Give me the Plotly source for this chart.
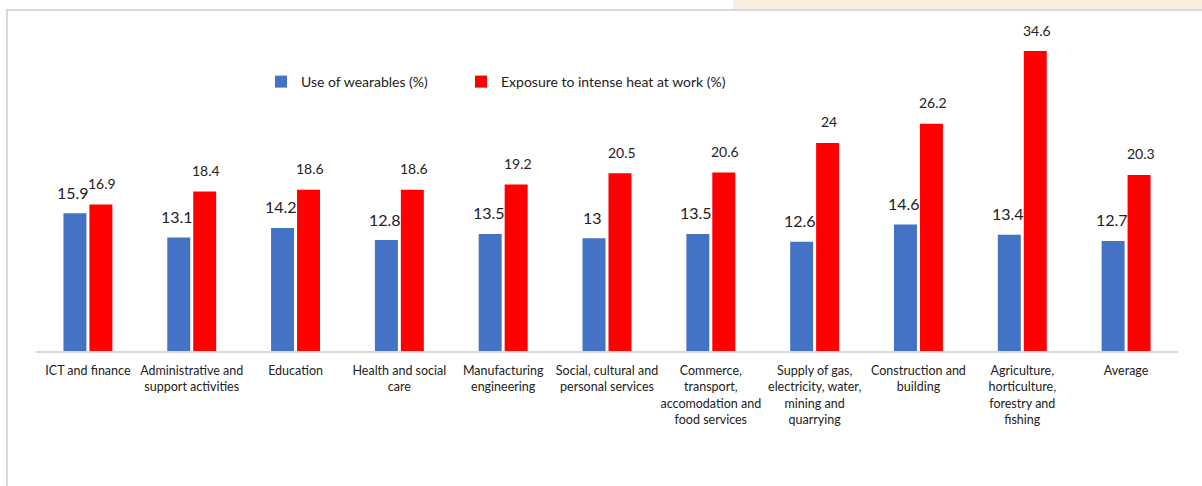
import plotly.graph_objects as go

categories = [
    "ICT and finance",
    "Administrative and<br>support activities",
    "Education",
    "Health and social<br>care",
    "Manufacturing<br>engineering",
    "Social, cultural and<br>personal services",
    "Commerce,<br>transport,<br>accomodation and<br>food services",
    "Supply of gas,<br>electricity, water,<br>mining and<br>quarrying",
    "Construction and<br>building",
    "Agriculture,<br>horticulture,<br>forestry and<br>fishing",
    "Average",
]
wearables = [15.9, 13.1, 14.2, 12.8, 13.5, 13, 13.5, 12.6, 14.6, 13.4, 12.7]
heat = [16.9, 18.4, 18.6, 18.6, 19.2, 20.5, 20.6, 24, 26.2, 34.6, 20.3]
series_names = ["Use of wearables (%)", "Exposure to intense heat at work (%)"]

BLUE = "#4472C4"
RED = "#FF0000"
FONT = "Lato"

W, H = 1202, 486
ml, mr, mt, mb = 36, 24, 20, 135
pw = W - ml - mr
ph = H - mt - mb
ymax = ph / (300 / 34.6)


def px_x(p):
    return (p - ml) / pw


def px_y(p):
    return (H - mb - p) / ph


fig = go.Figure()
fig.add_trace(go.Bar(x=categories, y=wearables, name=series_names[0], legend="legend",
                     marker=dict(color=BLUE, line=dict(width=0))))
fig.add_trace(go.Bar(x=categories, y=heat, name=series_names[1], legend="legend2",
                     marker=dict(color=RED, line=dict(width=0))))

annotations = []
for c, v in zip(categories, wearables):
    annotations.append(dict(x=c, y=v, text=f"{v:g}", showarrow=False, xshift=-14.5,
                            yshift=21, font=dict(family=FONT, size=16, color="#222")))
for c, v in zip(categories, heat):
    annotations.append(dict(x=c, y=v, text=f"{v:g}", showarrow=False, xshift=14.5,
                            yshift=21, font=dict(family=FONT, size=14, color="#222")))

shapes = [
    dict(type="rect", xref="paper", yref="paper", x0=px_x(733), x1=px_x(1210),
         y0=px_y(9), y1=px_y(-5), fillcolor="#FBEEE0", line=dict(width=0), layer="below"),
    dict(type="rect", xref="paper", yref="paper", x0=px_x(7), x1=px_x(1215),
         y0=px_y(500), y1=px_y(10), line=dict(color="#D9D9D9", width=2),
         fillcolor="rgba(0,0,0,0)", layer="below"),
]

legend_common = dict(orientation="h", xanchor="left", yanchor="middle",
                     font=dict(family=FONT, size=14, color="#222"),
                     bgcolor="rgba(0,0,0,0)")

fig.update_layout(
    width=W, height=H,
    margin=dict(l=ml, r=mr, t=mt, b=mb),
    paper_bgcolor="white", plot_bgcolor="white",
    barmode="group", bargap=0.5, bargroupgap=0.115,
    font=dict(family=FONT, color="#222"),
    showlegend=True,
    legend=dict(x=px_x(261), y=px_y(82), **legend_common),
    legend2=dict(x=px_x(461), y=px_y(82), **legend_common),
    annotations=annotations,
    shapes=shapes,
)
fig.update_xaxes(showline=True, linecolor="#D9D9D9", linewidth=2, ticks="",
                 ticklabelstandoff=7,
                 tickfont=dict(family=FONT, size=12.5, color="#222"), showgrid=False)
fig.update_yaxes(range=[0, ymax], visible=False, showgrid=False, zeroline=False)

fig.write_html("out.html", config={"displayModeBar": False},
               post_script="document.body.style.margin='0';")
